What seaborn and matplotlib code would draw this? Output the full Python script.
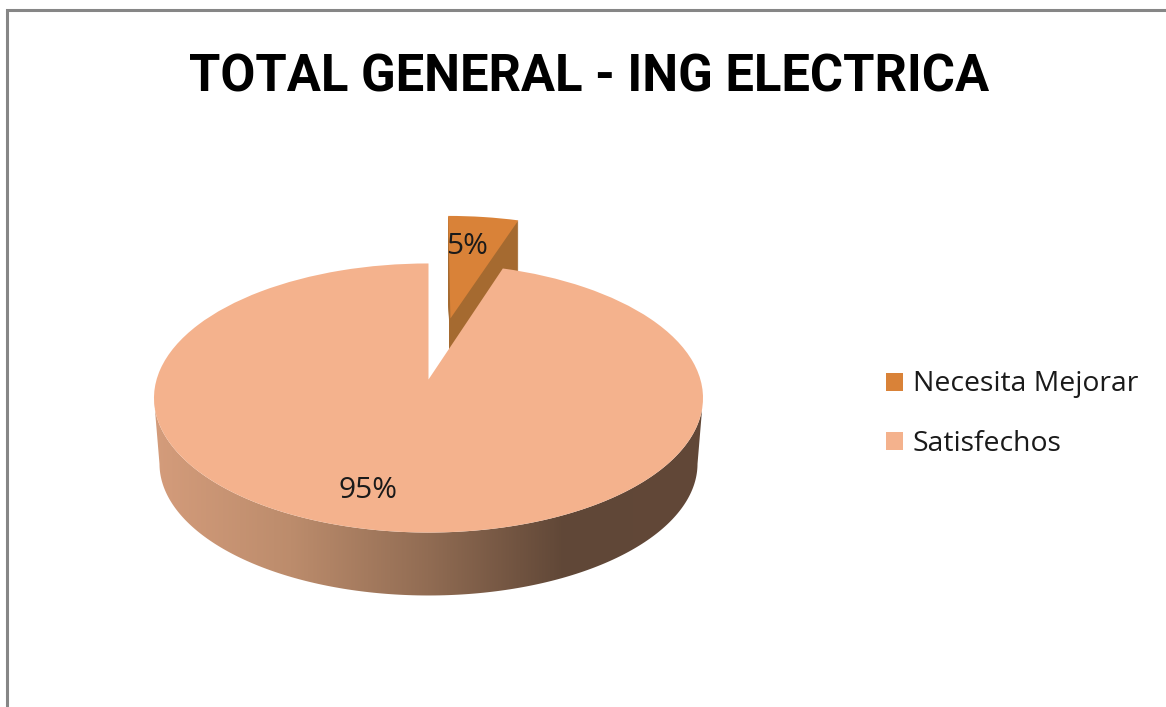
import numpy as np
import matplotlib
matplotlib.use("Agg")
import matplotlib.pyplot as plt
import matplotlib.transforms as mtransforms
from matplotlib.colors import LinearSegmentedColormap
from matplotlib.patches import Patch, Polygon
import seaborn as sns

sns.set_theme(style="white")

# datos
categorias = ["Necesita Mejorar", "Satisfechos"]
valores = [5, 95]
separacion = [0.5, 0]
titulo = "TOTAL GENERAL - ING ELECTRICA"

colores = sns.color_palette(["#D98238", "#F4B28D"])
color_lado = "#A56A30"
degradado = ["#D49C7B", "#BC8C6C", "#916C53", "#604737", "#624838"]
sin_borde = {"linewidth": 0, "edgecolor": "none"}


class Perspectiva(mtransforms.Transform):
    # lleva el pastel unitario a pixeles, con la inclinacion del 3D
    input_dims = 2
    output_dims = 2
    is_separable = False
    k = 0.1375

    def __init__(self, dy=0, escala=1.0, dx=0):
        super().__init__()
        self.dy = dy
        self.dx = dx
        self.escala = escala

    def transform_non_affine(self, xy):
        xy = np.asarray(xy, dtype=float)
        d = 1 + self.k * xy[:, 1]
        px = 428.5 + self.dx + 271.9 * self.escala * xy[:, 0] / d
        py = 379.5 + self.dy - 132 * self.escala * xy[:, 1] / d
        return np.column_stack([px, py])


fig = plt.figure(figsize=(11.66, 7.07), dpi=100)
ax = fig.add_axes([0, 0, 1, 1])
prof = 66

# pared de la porcion separada: copias apiladas de la misma porcion
for d in range(prof, 0, -1):
    w, _ = ax.pie(valores, explode=separacion, startangle=90, counterclock=False,
                  colors=[color_lado, "none"], wedgeprops=sin_borde)
    w[0].set_transform(Perspectiva(d, dx=2) + ax.transData)
    w[0].set_zorder(1)
    w[1].set_visible(False)

# pared de la porcion grande con degradado
t = np.radians(np.linspace(188, 352, 200))
arco = np.column_stack([np.cos(t), np.sin(t)])
borde = np.vstack([Perspectiva().transform(arco),
                   Perspectiva(prof, 0.98).transform(arco)[::-1]])
cmap = LinearSegmentedColormap.from_list("lado", degradado)
im = ax.imshow(np.linspace(0, 1, 256)[None, :], cmap=cmap, aspect="auto",
               extent=(154, 702, 600, 390), zorder=3)
im.set_clip_path(Polygon(borde, transform=ax.transData))

# cara superior
wedges, texts, autotexts = ax.pie(valores, explode=separacion, startangle=90,
                                  counterclock=False, colors=colores,
                                  autopct="%.0f%%", wedgeprops=sin_borde)
wedges[0].set_zorder(2)
wedges[1].set_zorder(4)
wedges[0].set_transform(Perspectiva(dx=2) + ax.transData)
wedges[1].set_transform(Perspectiva() + ax.transData)

ax.set_aspect("auto")
ax.set_xlim(0, 1166)
ax.set_ylim(707, 0)

for txt, pos in zip(autotexts, [(467.5, 246), (368.5, 490)]):
    txt.set_position(pos)
    txt.set_ha("center")
    txt.set_va("center")
    txt.set_fontfamily("Open Sans")
    txt.set_fontsize(21.5)
    txt.set_color("#1a1a1a")
    txt.set_zorder(6)

# marco del grafico (solo se ven izquierda y arriba)
ax.plot([6.5, 6.5, 1166], [707, 9.5, 9.5], color="#868686", lw=2.2, zorder=7,
        solid_joinstyle="miter")

ax.set_title(titulo, x=589 / 1166, y=1 - 92 / 707, pad=0, fontsize=36.5, fontweight="bold",
             fontfamily="Roboto", color="black")

handles = [Patch(facecolor=c, edgecolor="none") for c in colores]
ax.legend(handles, categorias, loc="upper left", bbox_to_anchor=(877 / 1166, 1 - 362 / 707),
          frameon=False, handlelength=0.6, handleheight=0.6, handletextpad=0.36,
          labelspacing=1.12, borderpad=0.3, borderaxespad=0,
          prop={"family": "Open Sans", "size": 20.4}, labelcolor="#1a1a1a")

plt.savefig("out.png", dpi=100)
